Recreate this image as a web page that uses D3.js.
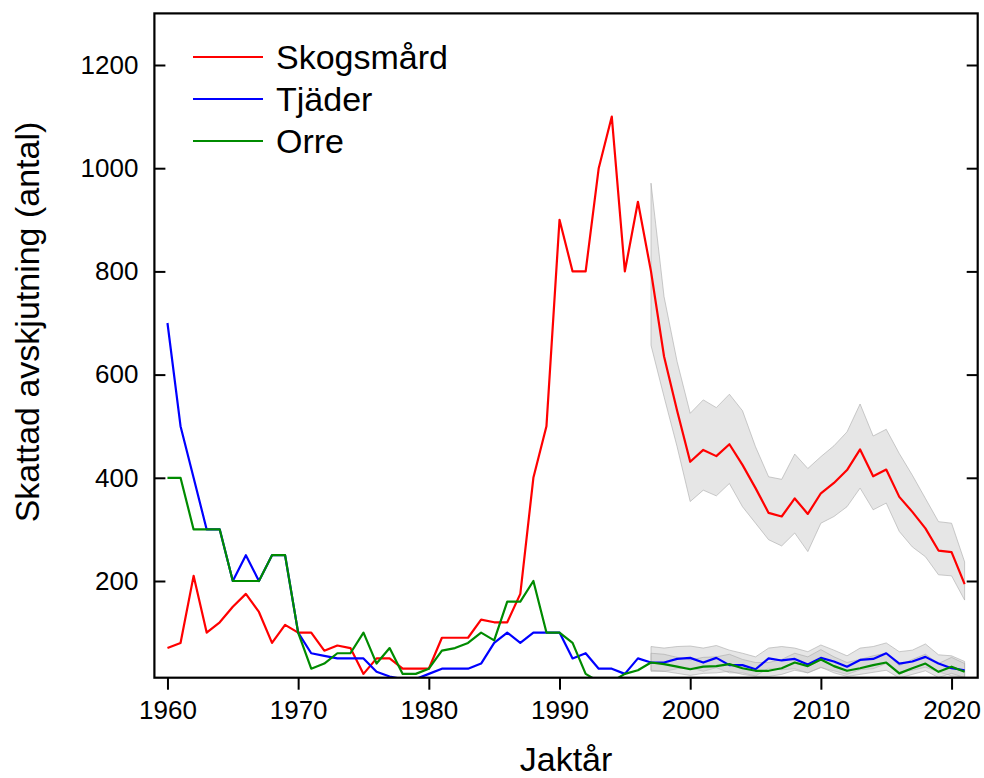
<!DOCTYPE html>
<html>
<head>
<meta charset="utf-8">
<script src="https://cdn.jsdelivr.net/npm/d3@7"></script>
<style>
  body { margin: 0; background: #fff; }
  text { font-family: "Liberation Sans", Arial, sans-serif; }
</style>
</head>
<body>
<div id="chart"></div>
<script>
// Data
let years = d3.range(1960, 2022);
let skogsmard = [70, 80, 210, 100, 120, 150, 175, 140, 80, 115,
  100, 100, 65, 75, 70, 20, 50, 50, 30, 30,
  30, 90, 90, 90, 125, 120, 120, 175, 400, 500,
  900, 800, 800, 1000, 1100, 800, 935, 800, 635, 530,
  431, 454, 442, 465, 425, 380, 332, 325, 360, 330,
  370, 390, 415, 455, 403, 416, 363, 334, 302, 259,
  256, 194];
let tjader = [700, 500, 400, 300, 300, 200, 250, 200, 250, 250,
  100, 60, 55, 50, 50, 50, 24, 15, 10, 10,
  20, 30, 30, 30, 40, 80, 100, 80, 100, 100,
  100, 50, 60, 30, 30, 20, 50, 42, 42, 49,
  51, 42, 51, 37, 37, 29, 50, 46, 49, 38,
  51, 44, 34, 47, 49, 60, 40, 44, 53, 40,
  31, 27];
let orre = [400, 400, 300, 300, 300, 200, 200, 200, 250, 250,
  100, 30, 40, 60, 60, 100, 40, 70, 20, 20,
  30, 65, 70, 80, 100, 85, 160, 160, 200, 100,
  100, 80, 20, 5, 5, 20, 27, 42, 39, 34,
  29, 34, 35, 39, 31, 26, 26, 31, 42, 35,
  48, 35, 26, 31, 37, 42, 21, 31, 40, 24,
  34, 24];

// uncertainty bands, 1997-2021
let bandYears = d3.range(1997, 2022);
let skogsmardUpper = [971, 751, 625, 525, 551, 536, 562, 530, 460, 402, 397, 446, 418,
  441, 462, 489, 543, 481, 494, 447, 405, 360, 315, 312, 237];
let skogsmardLower = [657, 557, 460, 354, 376, 365, 389, 344, 312, 280, 268, 293, 257,
  312, 325, 344, 380, 338, 351, 296, 266, 247, 212, 210, 163];
let tjaderUpper = [73, 70, 73, 74, 70, 75, 66, 60, 53, 70, 73, 70, 63,
  76, 66, 55, 70, 73, 80, 63, 66, 78, 57, 55, 44];
let tjaderLower = [25, 25, 30, 32, 25, 32, 22, 22, 16, 31, 28, 30, 22,
  32, 26, 19, 28, 30, 40, 24, 27, 33, 24, 16, 14];
let orreUpper = [60, 58, 52, 47, 52, 53, 58, 48, 42, 42, 48, 60, 53,
  67, 53, 42, 48, 55, 60, 36, 48, 58, 40, 52, 40];
let orreLower = [27, 25, 21, 17, 21, 22, 25, 19, 15, 15, 19, 27, 22,
  33, 22, 15, 19, 23, 27, 12, 19, 26, 13, 21, 13];

let xTicks = [1960, 1970, 1980, 1990, 2000, 2010, 2020];
let yTicks = [200, 400, 600, 800, 1000, 1200];

let seriesNames = ["Skogsmård", "Tjäder", "Orre"];
let seriesColors = ["#ff0000", "#0000ff", "#008b00"];

let W = 984, H = 778;
let plotLeft = 154.4, plotRight = 977.7, plotTop = 13.4, plotBottom = 677.7;

let svg = d3.select("#chart")
  .append("svg")
    .attr("width", W)
    .attr("height", H);

let x = d3.scaleLinear().domain([1959, 2022]).range([plotLeft, plotRight]);
let y = d3.scaleLinear().domain([12.6, 1300]).range([plotBottom, plotTop]);

svg.append("clipPath").attr("id", "clip")
  .append("rect")
    .attr("x", plotLeft).attr("y", plotTop)
    .attr("width", plotRight - plotLeft).attr("height", plotBottom - plotTop);

let plot = svg.append("g").attr("clip-path", "url(#clip)");

// bands
let area = d3.area()
  .x(function(d) { return x(d.year); })
  .y0(function(d) { return y(d.lo); })
  .y1(function(d) { return y(d.hi); });

[[skogsmardLower, skogsmardUpper], [tjaderLower, tjaderUpper], [orreLower, orreUpper]]
  .forEach(function(b) {
    let rows = bandYears.map(function(yr, i) { return {year: yr, lo: b[0][i], hi: b[1][i]}; });
    plot.append("path")
      .datum(rows)
      .attr("fill", "rgba(200,200,200,0.45)")
      .attr("stroke", "rgba(170,170,170,0.6)")
      .attr("stroke-width", 1)
      .attr("d", area);
  });

// lines
let line = d3.line()
  .x(function(d) { return x(d.year); })
  .y(function(d) { return y(d.value); });

[skogsmard, tjader, orre].forEach(function(vals, k) {
  plot.append("path")
    .datum(years.map(function(yr, i) { return {year: yr, value: vals[i]}; }))
    .attr("fill", "none")
    .attr("stroke", seriesColors[k])
    .attr("stroke-width", 2.2)
    .attr("stroke-linejoin", "round")
    .attr("d", line);
});

// axes
let xAxis = svg.append("g")
  .attr("transform", "translate(0," + plotBottom + ")")
  .call(d3.axisBottom(x).tickValues(xTicks).tickFormat(d3.format("d"))
    .tickSize(12).tickPadding(11));

let yAxis = svg.append("g")
  .attr("transform", "translate(" + plotLeft + ",0)")
  .call(d3.axisLeft(y).tickValues(yTicks).tickFormat(d3.format("d"))
    .tickSize(-11).tickPadding(16));

let yAxisR = svg.append("g")
  .attr("transform", "translate(" + plotRight + ",0)")
  .call(d3.axisRight(y).tickValues(yTicks).tickSize(-11).tickFormat(""));

[xAxis, yAxis, yAxisR].forEach(function(a) {
  a.select(".domain").remove();
  a.selectAll(".tick line").attr("stroke", "#000").attr("stroke-width", 2);
  a.selectAll("text").attr("font-size", 26).attr("fill", "#000")
    .attr("font-family", "'Liberation Sans', Arial, sans-serif");
});

// box
svg.append("rect")
  .attr("x", plotLeft).attr("y", plotTop)
  .attr("width", plotRight - plotLeft).attr("height", plotBottom - plotTop)
  .attr("fill", "none")
  .attr("stroke", "#000")
  .attr("stroke-width", 2.2);

// axis titles
svg.append("text")
  .attr("x", (plotLeft + plotRight) / 2)
  .attr("y", 771)
  .attr("text-anchor", "middle")
  .attr("font-size", 34)
  .text("Jaktår");

svg.append("text")
  .attr("transform", "translate(39,322) rotate(-90)")
  .attr("text-anchor", "middle")
  .attr("font-size", 34)
  .text("Skattad avskjutning (antal)");

// legend
let legend = svg.append("g");
seriesNames.forEach(function(name, k) {
  let ly = 57 + k * 42;
  legend.append("line")
    .attr("x1", 193).attr("x2", 263)
    .attr("y1", ly).attr("y2", ly)
    .attr("stroke", seriesColors[k])
    .attr("stroke-width", 2.2);
  legend.append("text")
    .attr("x", 276).attr("y", ly + 12)
    .attr("font-size", 34)
    .text(name);
});
</script>
</body>
</html>
